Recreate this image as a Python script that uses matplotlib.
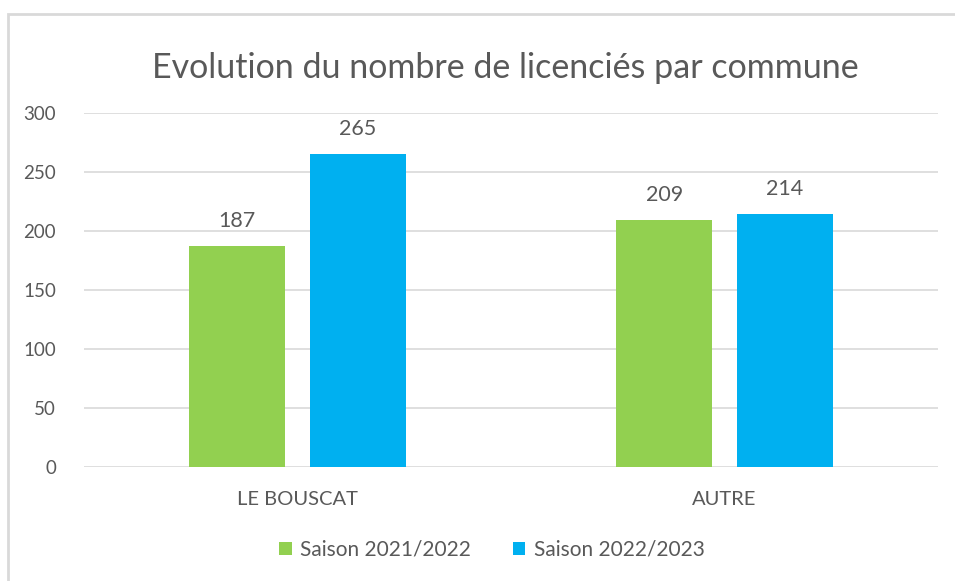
import matplotlib.pyplot as plt
import numpy as np
from matplotlib.patches import Rectangle

plt.rcParams["font.family"] = ["Lato", "DejaVu Sans"]

categories = ["LE BOUSCAT", "AUTRE"]
season_labels = ["Saison 2021/2022", "Saison 2022/2023"]
values_2122 = [187, 209]
values_2223 = [265, 214]
yticks = [0, 50, 100, 150, 200, 250, 300]

text_color = "#595959"
colors = ["#92D050", "#00B0F0"]

fig = plt.figure(figsize=(9.55, 5.81), dpi=100)
fig.patches.append(Rectangle((8 / 955, -0.1), 2, 1 - 14 / 581 + 0.1, transform=fig.transFigure,
                             fill=False, edgecolor="#D9D9D9", linewidth=2))
ax = fig.add_axes([84 / 955, 1 - 467 / 581, (938 - 84) / 955, (467 - 113) / 581])

x = np.arange(len(categories))
width = 0.224
offset = 0.141
for i, (vals, label) in enumerate(zip([values_2122, values_2223], season_labels)):
    pos = x + (offset if i else -offset)
    bars = ax.bar(pos, vals, width, color=colors[i], label=label, zorder=2)
    for b, v in zip(bars, vals):
        ax.text(b.get_x() + b.get_width() / 2, v + 13, str(v), ha="center", va="bottom",
                fontsize=15.5, color=text_color)

ax.set_xlim(-0.5, 1.5)
ax.set_ylim(0, 300)
ax.set_yticks(yticks)
ax.set_xticks(x)
ax.set_xticklabels(categories)
ax.grid(axis="y", color="#D9D9D9", linewidth=1.2, zorder=0)
ax.tick_params(length=0, colors=text_color)
ax.tick_params(axis="y", pad=20, labelsize=13.5)
ax.tick_params(axis="x", pad=17, labelsize=14.5)
for s in ax.spines.values():
    s.set_visible(False)

fig.text(505 / 955, 1 - 68 / 581, "Evolution du nombre de licenciés par commune", ha="center", va="center",
         fontsize=24.5, color=text_color)
fig.legend(loc="center", bbox_to_anchor=(492 / 955, 1 - 550 / 581), ncol=2, frameon=False,
           fontsize=15, labelcolor=text_color, handlelength=0.6, handleheight=0.6,
           handletextpad=0.4, columnspacing=2.0)

fig.savefig("out.png", dpi=100)
